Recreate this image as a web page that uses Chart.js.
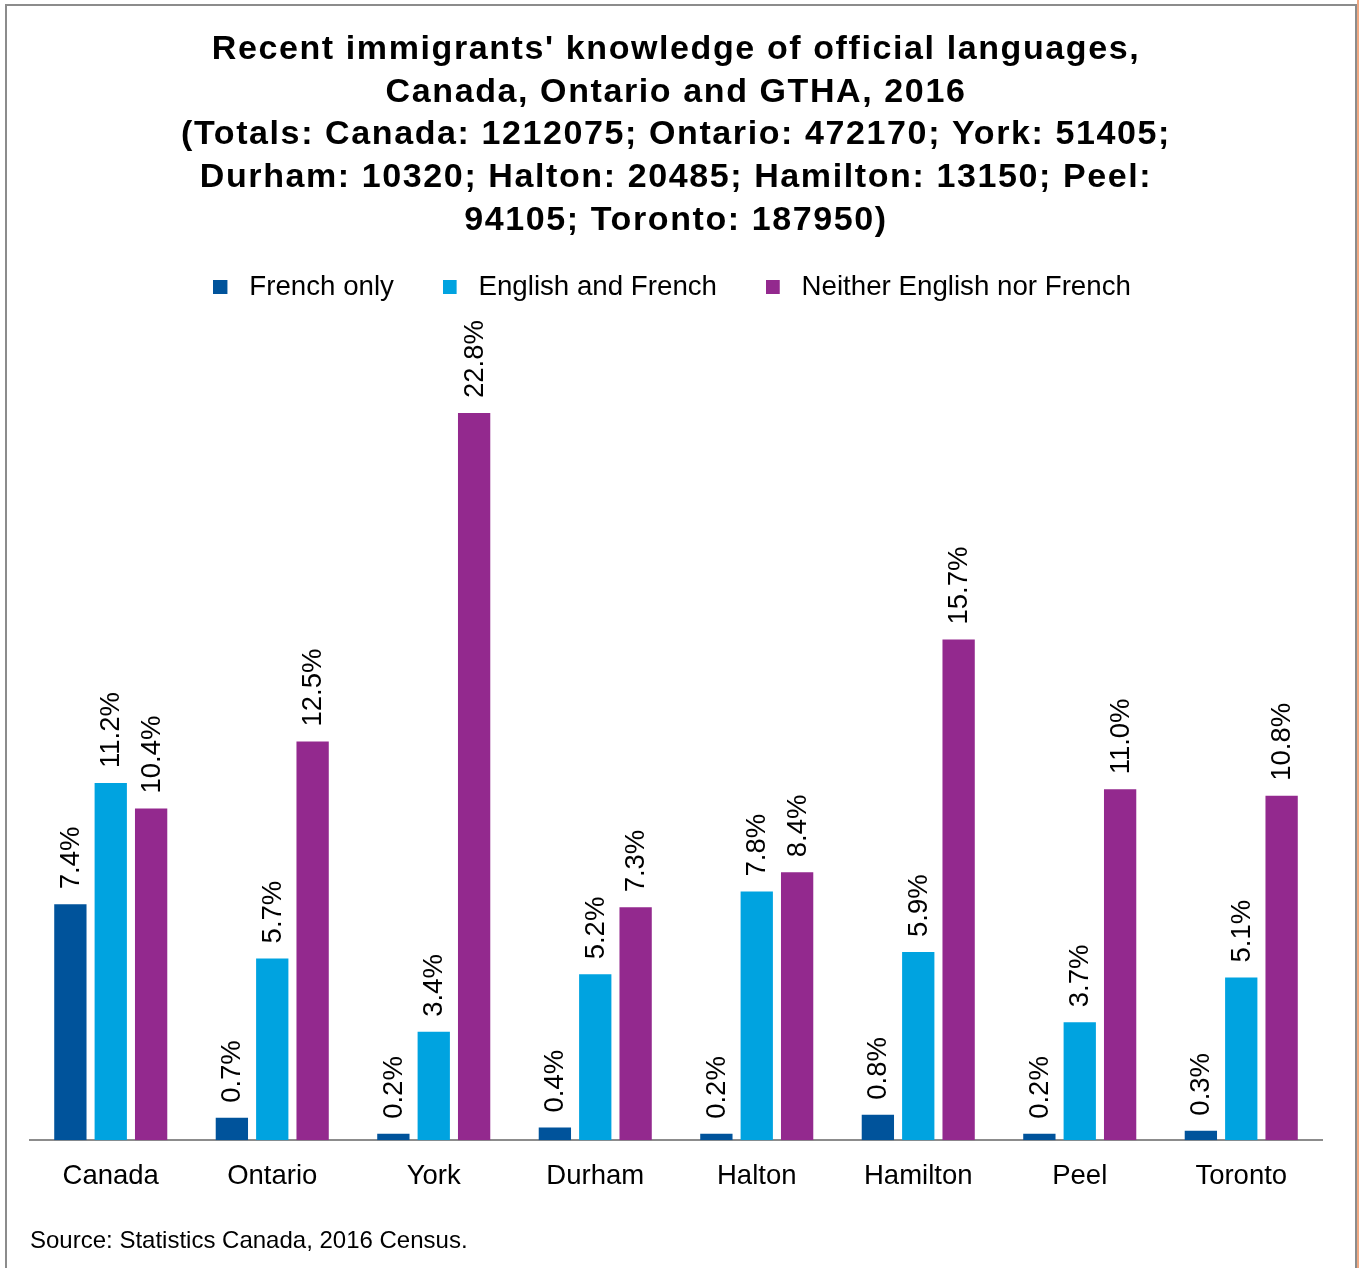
<!DOCTYPE html>
<html lang="en">

<head>
    <meta charset="utf-8">
    <title>Recent immigrants' knowledge of official languages</title>
    <script src="https://cdn.jsdelivr.net/npm/chart.js"></script>
    <style>
        body { margin: 0; background: #fff; }
        #frame {
            position: absolute; left: 0; top: 0; width: 1359px; height: 1268px;
            overflow: hidden;
        }
        #border {
            position: absolute; left: 5px; top: 4px; width: 1348px; height: 1300px;
            border-left: 2px solid #8c8c8c; border-top: 2px solid #8c8c8c; border-right: 3px solid #8c8c8c;
        }
        #edge { position: absolute; left: 1357px; top: 0; width: 2px; height: 1268px; background: #f0a882; }
        canvas { position: absolute; left: 0; top: 0; }
    </style>
</head>
<body>
<div id="frame">
    <div id="border"></div>
    <div id="edge"></div>
    <canvas id="langChart" width="1359" height="1268"></canvas>
</div>

<script>
    const regions = ['Canada', 'Ontario', 'York', 'Durham', 'Halton', 'Hamilton', 'Peel', 'Toronto']
    const frenchOnly = [7.4, 0.7, 0.2, 0.4, 0.2, 0.8, 0.2, 0.3]
    const englishAndFrench = [11.2, 5.7, 3.4, 5.2, 7.8, 5.9, 3.7, 5.1]
    const neitherLanguage = [10.4, 12.5, 22.8, 7.3, 8.4, 15.7, 11.0, 10.8]

    const titleLines = [
        "Recent immigrants' knowledge of official languages,",
        "Canada, Ontario and GTHA, 2016",
        "(Totals: Canada: 1212075; Ontario: 472170; York: 51405;",
        "Durham: 10320; Halton: 20485; Hamilton: 13150; Peel:",
        "94105; Toronto: 187950)"
    ]

    const colours = ['#00539b', '#00a3e0', '#93298e']
    const fontFamily = 'Arial, "Liberation Sans", sans-serif'

    // square legend marker with empty space on its right, so the text sits further away
    function legendMarker(colour) {
        const c = document.createElement('canvas')
        c.width = 22
        c.height = 14
        const ctx = c.getContext('2d')
        ctx.fillStyle = colour
        ctx.fillRect(0, 0, 14, 14)
        return c
    }
    const markers = colours.map(legendMarker)

    // percentage written upright above each bar
    const barValues = {
        id: 'barValues',
        afterDatasetsDraw(chart) {
            const ctx = chart.ctx
            ctx.save()
            ctx.font = '27.5px ' + fontFamily
            ctx.fillStyle = '#000'
            ctx.textAlign = 'left'
            ctx.textBaseline = 'middle'
            chart.data.datasets.forEach((ds, i) => {
                chart.getDatasetMeta(i).data.forEach((bar, j) => {
                    ctx.save()
                    ctx.translate(bar.x + 1, bar.y - 15)
                    ctx.rotate(-Math.PI / 2)
                    ctx.fillText(ds.data[j].toFixed(1) + '%', 0, 0)
                    ctx.restore()
                })
            })
            ctx.restore()
        }
    }

    // the heading is set a little wider than plain bold Arial
    const wideTitle = {
        id: 'wideTitle',
        beforeDraw(chart) {
            const block = chart.titleBlock
            if (!block || block._wide) return
            const draw = block.draw
            block.draw = function () {
                chart.ctx.letterSpacing = '1.6px'
                draw.apply(this, arguments)
                chart.ctx.letterSpacing = '0px'
            }
            block._wide = true
        }
    }

    const langChart = new Chart(document.getElementById('langChart'), {
        type: 'bar',
        data: {
            labels: regions,
            datasets: [
                {label: 'French only', data: frenchOnly, backgroundColor: colours[0]},
                {label: 'English and French', data: englishAndFrench, backgroundColor: colours[1]},
                {label: 'Neither English nor French', data: neitherLanguage, backgroundColor: colours[2]}
            ]
        },
        options: {
            responsive: false,
            animation: false,
            categoryPercentage: 0.75,
            barPercentage: 0.8,
            layout: {
                padding: {left: 30, right: 37, top: 28, bottom: 12}
            },
            scales: {
                y: {
                    display: false,
                    min: 0,
                    max: 26
                },
                x: {
                    grid: {display: false},
                    border: {color: '#8c8c8c', width: 2},
                    ticks: {
                        color: '#000',
                        padding: 12,
                        font: {family: fontFamily, size: 27.5}
                    }
                }
            },
            plugins: {
                title: {
                    display: true,
                    text: titleLines,
                    color: '#000',
                    font: {family: fontFamily, size: 34, weight: 'bold', lineHeight: 1.2574},
                    padding: {top: 0, bottom: -9.5}
                },
                subtitle: {
                    display: true,
                    position: 'bottom',
                    align: 'start',
                    text: 'Source: Statistics Canada, 2016 Census.',
                    color: '#000',
                    font: {family: fontFamily, size: 24},
                    padding: {top: 22, bottom: 0}
                },
                legend: {
                    labels: {
                        color: '#000',
                        font: {family: fontFamily, size: 27.7},
                        usePointStyle: true,
                        pointStyleWidth: 22,
                        boxHeight: 14,
                        padding: 41,
                        generateLabels(chart) {
                            const items = Chart.defaults.plugins.legend.labels.generateLabels(chart)
                            items.forEach((item, i) => {
                                item.pointStyle = markers[i]
                                item.text += ' '
                            })
                            return items
                        }
                    }
                },
                tooltip: {enabled: false}
            }
        },
        plugins: [barValues, wideTitle]
    })
</script>
</body>
</html>
